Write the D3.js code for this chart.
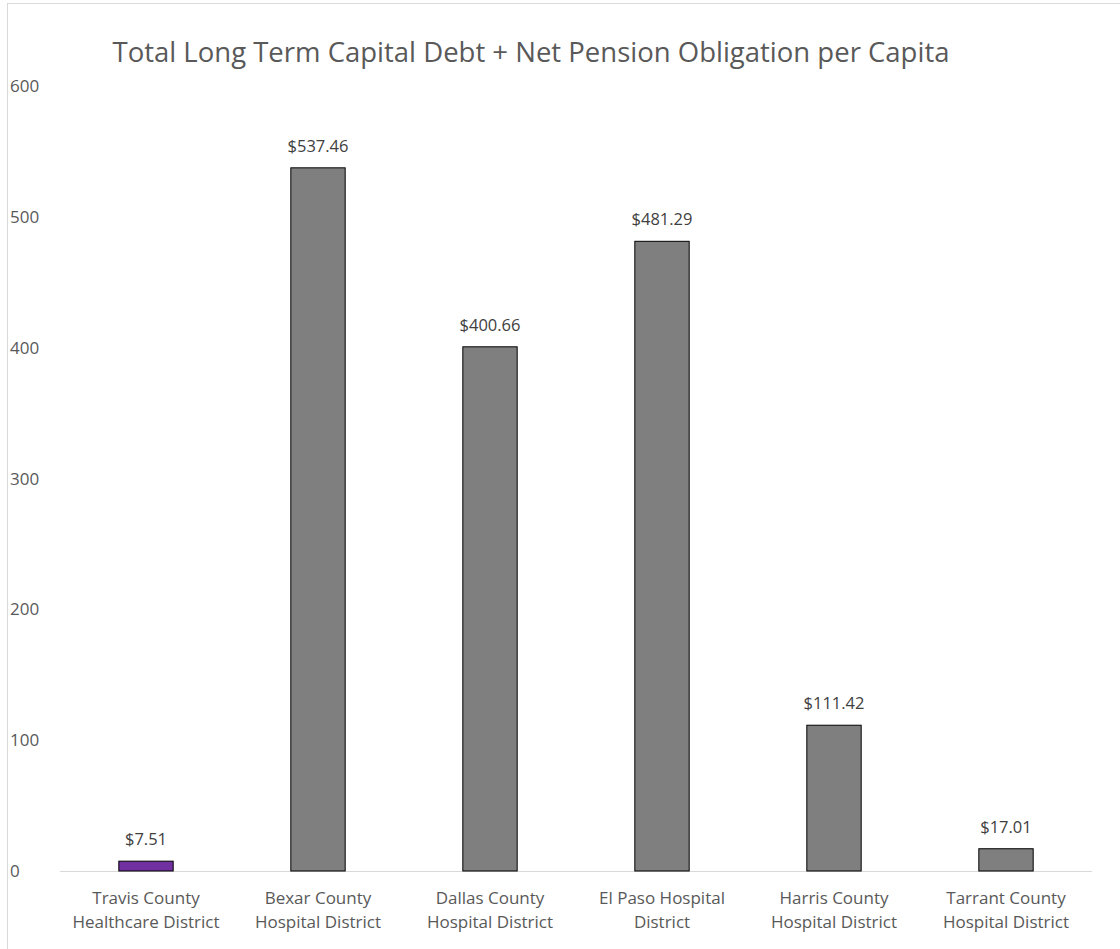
<!DOCTYPE html>
<html>
<head>
<meta charset="utf-8">
<script src="https://cdn.jsdelivr.net/npm/d3@7"></script>
<style>
  body { margin: 0; background: #fff; }
  text { font-family: "Open Sans", "Noto Sans", sans-serif; }
</style>
</head>
<body>
<div class="container"></div>
<script>
const WIDTH = 1120;
const HEIGHT = 949;

var categories = [
    ['Travis County', 'Healthcare District'],
    ['Bexar County', 'Hospital District'],
    ['Dallas County', 'Hospital District'],
    ['El Paso Hospital', 'District'],
    ['Harris County', 'Hospital District'],
    ['Tarrant County', 'Hospital District']
];
var values = [7.51, 537.46, 400.66, 481.29, 111.42, 17.01];
var yTicks = [0, 100, 200, 300, 400, 500, 600];
var title = 'Total Long Term Capital Debt + Net Pension Obligation per Capita';

var translate = function(x, y) {
    return `translate(${x},${y})`;
};

var fillLayout = function() {
    var svg = d3.select('.container').append('svg')
        .attr('width', WIDTH)
        .attr('height', HEIGHT);

    // chart area border
    svg.append('rect')
        .attr('x', 7.5).attr('y', 3.5)
        .attr('width', WIDTH).attr('height', HEIGHT)
        .attr('fill', 'none')
        .attr('stroke', '#d9d9d9');

    let xScale = d3.scaleBand()
        .domain(d3.range(categories.length))
        .range([60, 1092])
        .paddingInner(0.684)
        .paddingOuter(0.342);

    let yScale = d3.scaleLinear()
        .domain([0, 600])
        .range([871, 86]);

    svg.append('text')
        .attr('x', 531)
        .attr('y', 62)
        .attr('text-anchor', 'middle')
        .attr('font-size', 27.5)
        .attr('fill', '#595959')
        .text(title);

    // y tick labels
    svg.append('g')
        .selectAll('text')
        .data(yTicks)
        .join('text')
        .attr('x', 10)
        .attr('y', d => yScale(d) + 6)
        .attr('font-size', 17)
        .attr('fill', '#595959')
        .text(d => d);

    // baseline
    svg.append('line')
        .attr('x1', 60).attr('x2', 1092)
        .attr('y1', yScale(0) + 0.5).attr('y2', yScale(0) + 0.5)
        .attr('stroke', '#d9d9d9');

    svg.append('g')
        .selectAll('rect')
        .data(values)
        .join('rect')
        .attr('x', (d, i) => xScale(i))
        .attr('y', d => yScale(d))
        .attr('width', xScale.bandwidth())
        .attr('height', d => yScale(0) - yScale(d))
        .attr('fill', (d, i) => i === 0 ? '#7030a0' : '#7f7f7f')
        .attr('stroke', '#000')
        .attr('stroke-width', 1);

    svg.append('g')
        .selectAll('text')
        .data(values)
        .join('text')
        .attr('x', (d, i) => xScale(i) + xScale.bandwidth() / 2)
        .attr('y', d => yScale(d) - 16)
        .attr('text-anchor', 'middle')
        .attr('font-size', 16.5)
        .attr('fill', '#404040')
        .text(d => '$' + d.toFixed(2));

    var labels = svg.append('g')
        .selectAll('text')
        .data(categories)
        .join('text')
        .attr('x', (d, i) => xScale(i) + xScale.bandwidth() / 2)
        .attr('y', 904)
        .attr('text-anchor', 'middle')
        .attr('font-size', 17)
        .attr('fill', '#595959');
    labels.selectAll('tspan')
        .data(d => d)
        .join('tspan')
        .attr('x', function() { return d3.select(this.parentNode).attr('x'); })
        .attr('dy', (d, j) => j === 0 ? 0 : 24)
        .text(d => d);
};
window.onload = fillLayout;
</script>
</body>
</html>
